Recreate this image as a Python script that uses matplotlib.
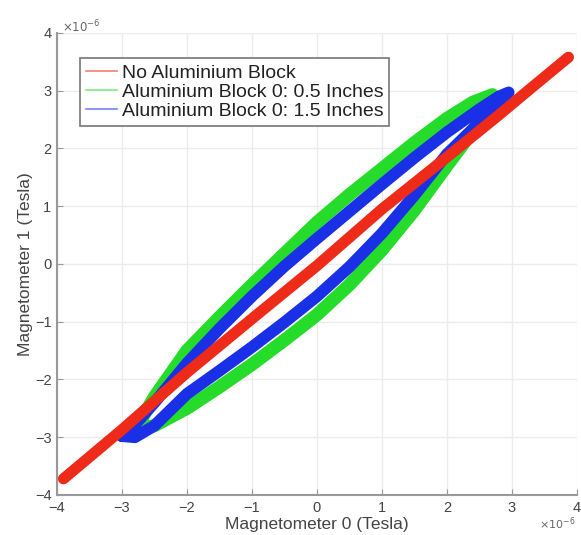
import numpy as np
import matplotlib
matplotlib.use("Agg")
import matplotlib.pyplot as plt

plt.rcParams['font.family'] = ['Liberation Sans', 'DejaVu Sans']

# values in units of 1e-6 Tesla
red_x = [-3.9, -3.0, -2.0, -1.0, 0.0, 1.0, 2.0, 2.8, 3.3, 3.87]
red_y = [-3.72, -2.87, -1.88, -0.95, -0.03, 0.95, 1.85, 2.58, 3.05, 3.58]

# green loop: upper branch and lower branch, both left->right
green_x = [-2.8, -2.5, -2.0, -1.5, -1.0, -0.5, 0.0, 0.5, 1.0, 1.5, 2.0, 2.4, 2.7]
green_up = [-2.88, -2.3, -1.5, -0.92, -0.36, 0.18, 0.72, 1.2, 1.65, 2.1, 2.52, 2.8, 2.93]
green_lo = [-2.88, -2.8, -2.5, -2.13, -1.74, -1.32, -0.88, -0.36, 0.24, 0.93, 1.7, 2.3, 2.93]

# blue loop
blue_x = [-3.0, -2.8, -2.5, -2.0, -1.5, -1.0, -0.5, 0.0, 0.5, 1.0, 1.5, 2.0, 2.5, 2.8, 2.95]
blue_up = [-2.98, -2.78, -2.4, -1.72, -1.12, -0.56, -0.04, 0.44, 0.91, 1.38, 1.84, 2.28, 2.68, 2.9, 2.97]
blue_lo = [-2.98, -3.0, -2.8, -2.25, -1.85, -1.44, -1.01, -0.56, -0.05, 0.53, 1.19, 1.9, 2.45, 2.78, 2.97]

labels = ['No Aluminium Block', 'Aluminium Block 0: 0.5 Inches', 'Aluminium Block 0: 1.5 Inches']
c_red = '#ee2a18'
c_green = '#26dc2a'
c_blue = '#1a30e6'

fig = plt.figure(figsize=(5.81, 5.35), dpi=100)
ax = fig.add_axes([0.098, 0.0748, 0.895, 0.8636])

def loop(xs, up, lo):
    x = list(xs) + list(xs[::-1])
    y = list(up) + list(lo[::-1])
    return x, y

gx, gy = loop(green_x, green_up, green_lo)
bx, by = loop(blue_x, blue_up, blue_lo)

kw = dict(solid_capstyle='round', solid_joinstyle='round')
ax.plot(gx, gy, color=c_green, lw=9.5, zorder=2, **kw)
ax.plot(bx, by, color=c_blue, lw=8.5, zorder=3, **kw)
ax.plot(red_x, red_y, color=c_red, lw=8, zorder=4, **kw)

# legend proxies
h1, = ax.plot([], [], color=c_red, lw=1.2, alpha=0.6)
h2, = ax.plot([], [], color=c_green, lw=1.2, alpha=0.6)
h3, = ax.plot([], [], color=c_blue, lw=1.2, alpha=0.6)
leg = ax.legend([h1, h2, h3], labels, loc='upper left', bbox_to_anchor=(0.044, 0.945),
                fontsize=14, frameon=True, fancybox=False, framealpha=1,
                edgecolor='#777777', handlelength=1.6, handletextpad=0.25,
                labelspacing=0.08, borderpad=0.3, borderaxespad=0)
leg.get_frame().set_linewidth(1.2)
for t in leg.get_texts():
    t.set_color('#222222')

ax.set_xlim(-4, 4)
ax.set_ylim(-4, 4)
ax.set_xticks(range(-4, 5))
ax.set_yticks(range(-4, 5))
ax.grid(True, color='#ececec', lw=1)
ax.set_axisbelow(True)
for s in ['top', 'right']:
    ax.spines[s].set_visible(False)
for s in ['left', 'bottom']:
    ax.spines[s].set_color('#999999')
    ax.spines[s].set_linewidth(1.5)
ax.tick_params(direction='in', length=4, color='#999999', labelsize=10.5,
               labelcolor='#444444', pad=4)

ax.set_xlabel('Magnetometer 0 (Tesla)', fontsize=12.5, color='#444444', labelpad=2)
ax.set_ylabel('Magnetometer 1 (Tesla)', fontsize=12.5, color='#444444', labelpad=1)
ax.text(0.01, 1.012, r'$\times10^{-6}$', transform=ax.transAxes, fontsize=8.5,
        color='#666666', ha='left', va='center')
ax.text(0.998, -0.062, r'$\times10^{-6}$', transform=ax.transAxes, fontsize=8,
        color='#666666', ha='right', va='center')

fig.savefig('out.png', dpi=100)
